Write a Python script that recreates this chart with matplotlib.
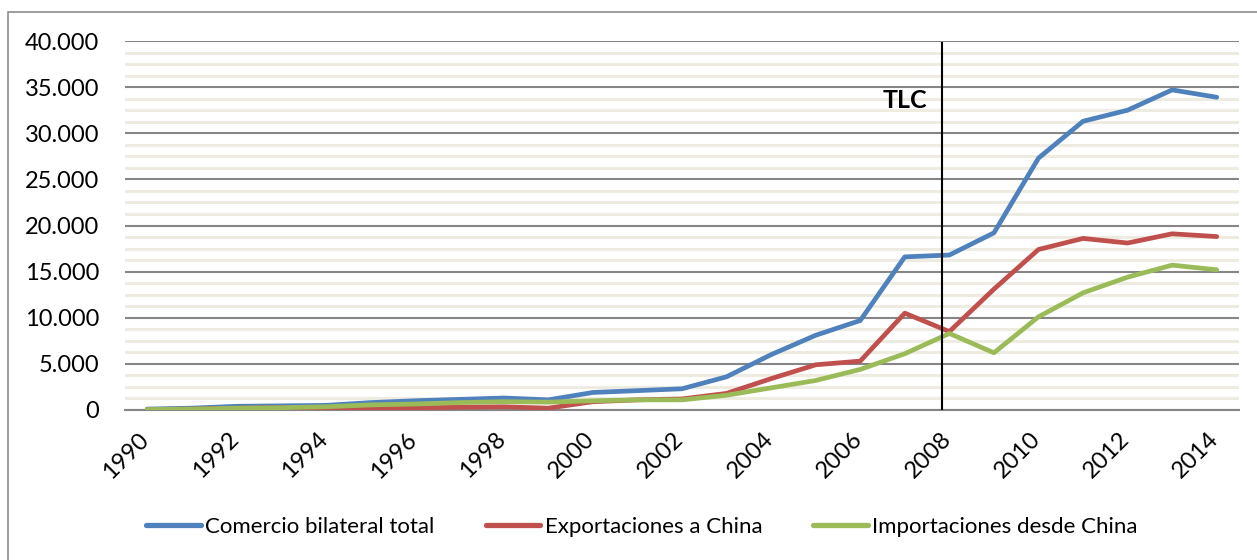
import matplotlib
matplotlib.use("Agg")
import matplotlib.pyplot as plt
from matplotlib.patches import Rectangle
from matplotlib.ticker import FuncFormatter, MultipleLocator
import matplotlib.transforms as mtransforms

years = list(range(1990, 2015))
comercio_total = [100, 200, 400, 450, 500, 800, 1000, 1150, 1300, 1100, 1900, 2100, 2300,
                  3600, 6000, 8100, 9700, 16600, 16800, 19200, 27300, 31300, 32500, 34700, 33900]
exportaciones = [50, 100, 200, 250, 150, 200, 250, 300, 350, 200, 900, 1100, 1200,
                 1800, 3400, 4900, 5300, 10500, 8500, 13100, 17400, 18600, 18100, 19100, 18800]
importaciones = [50, 100, 200, 250, 350, 550, 650, 800, 900, 850, 1000, 1100, 1100,
                 1600, 2400, 3200, 4400, 6100, 8300, 6200, 10100, 12700, 14400, 15700, 15200]
series_names = ["Comercio bilateral total", "Exportaciones a China", "Importaciones desde China"]
tick_years = list(range(1990, 2015, 2))
tlc_label = "TLC"

plt.rcParams['font.family'] = ['Lato', 'DejaVu Sans']

fig = plt.figure(figsize=(12.57, 5.6), dpi=100)
ax = fig.add_axes([125/1257, 1-410/560, (1239-125)/1257, (410-41)/560])

fig.patches.append(Rectangle((8/1257, -0.1), 1.2, 1-12/560+0.1, transform=fig.transFigure,
                             fill=False, edgecolor='#8c8c8c', linewidth=1.2))

colors = ['#4F81BD', '#C0504D', '#9BBB59']
for vals, name, c in zip([comercio_total, exportaciones, importaciones], series_names, colors):
    ax.plot(years, vals, color=c, linewidth=3.4, label=name, solid_capstyle='round', zorder=3)

ax.set_xlim(1989.5, 2014.5)
ax.set_ylim(0, 40000)
ax.yaxis.set_major_locator(MultipleLocator(5000))
ax.yaxis.set_minor_locator(MultipleLocator(1250))
ax.yaxis.set_major_formatter(FuncFormatter(lambda v, p: f"{int(v):,}".replace(",", ".")))
ax.grid(True, which='major', axis='y', color='#868686', linewidth=1.5, zorder=1)
ax.grid(True, which='minor', axis='y', color='#EEECE1', linewidth=2.2, zorder=0)
ax.tick_params(axis='y', which='both', length=0, labelsize=17, pad=18.5)
ax.tick_params(axis='x', length=0, labelsize=17, pad=13.4)
ax.set_xticks(tick_years)
labels = ax.set_xticklabels([str(y) for y in tick_years], rotation=45, ha='right',
                            rotation_mode='anchor')
offset = mtransforms.ScaledTranslation(-9/100, 0, fig.dpi_scale_trans)
for lab in labels:
    lab.set_transform(lab.get_transform() + offset)
for s in ['top', 'right', 'left']:
    ax.spines[s].set_visible(False)
ax.spines['bottom'].set_color('#868686')
ax.spines['bottom'].set_linewidth(1.5)

ax.axvline(2007.84, ymin=0, ymax=0.995, color='black', linewidth=1.5, zorder=4)
ax.text(2007.5, 33600, tlc_label, ha='right', va='center', fontsize=18, fontweight='bold')

leg = fig.legend(loc='center', bbox_to_anchor=(642/1257, 1-527/560), ncol=3, frameon=False,
                 fontsize=16, handlelength=2.45, handletextpad=0.2, columnspacing=2.3)
for h in leg.get_lines():
    h.set_linewidth(3.8)

fig.savefig("out.png", dpi=100)
